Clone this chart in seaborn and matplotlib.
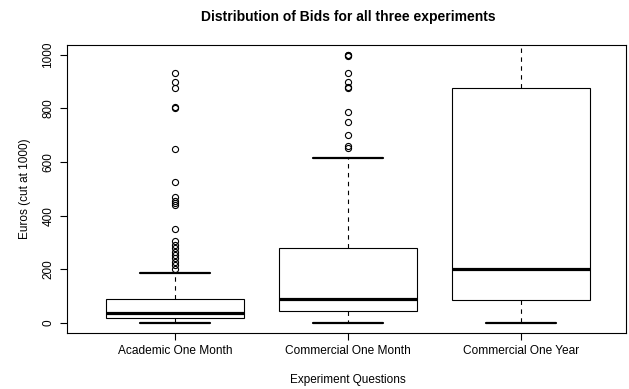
import numpy as np
import pandas as pd
import matplotlib
matplotlib.use("Agg")
import matplotlib.pyplot as plt
import seaborn as sns

# ---- data (Euros) ----
categories = ["Academic One Month", "Commercial One Month", "Commercial One Year"]
whisker_low = [0, 0, 0]
q1 = [16, 42.5, 85]
median = [38, 88.5, 199.5]
q3 = [87, 280, 876]
whisker_high = [187, 614, 1500]
outliers_academic = [934, 899, 877, 806, 801, 648, 526, 471, 456, 446, 441, 349,
                     305, 290, 278, 265, 252, 240, 228, 215, 200]
outliers_comm_month = [1000, 1000, 997, 934, 899, 880, 876, 788, 750, 700, 660, 652]
outliers_comm_year = []
outliers = [outliers_academic, outliers_comm_month, outliers_comm_year]

yticks = [0, 200, 400, 600, 800, 1000]
title = "Distribution of Bids for all three experiments"
xlabel = "Experiment Questions"
ylabel = "Euros (cut at 1000)"

# expand the five-number summaries into sample data that reproduces them
rep = 30
rows = []
for i, cat in enumerate(categories):
    vals = ([whisker_low[i]] + [q1[i]] * rep + [median[i]] * rep + [q3[i]] * rep
            + [whisker_high[i]] + list(outliers[i]))
    rows += [(cat, v) for v in vals]
df = pd.DataFrame(rows, columns=["question", "euros"])

sns.set_theme(style="white")
plt.rcParams["font.family"] = ["Liberation Sans", "DejaVu Sans"]
plt.rcParams["text.color"] = "black"
plt.rcParams["axes.labelcolor"] = "black"
plt.rcParams["xtick.color"] = "black"
plt.rcParams["ytick.color"] = "black"

W, H = 629, 389
fig = plt.figure(figsize=(W / 100, H / 100), dpi=100)
ax_l, ax_r, ax_t, ax_b = 67, 626, 44.5, 333
ax = fig.add_axes([ax_l / W, 1 - ax_b / H, (ax_r - ax_l) / W, (ax_b - ax_t) / H])

sns.boxplot(data=df, x="question", y="euros", order=categories, ax=ax,
            color="white", linecolor="black", linewidth=0.8, width=0.8, whis=1.5,
            medianprops=dict(linewidth=2.3, color="black"),
            whiskerprops=dict(linestyle=(0, (4, 4)), linewidth=0.8, color="black"),
            capprops=dict(linewidth=1.6, color="black"),
            boxprops=dict(facecolor="white", edgecolor="black", linewidth=0.8),
            flierprops=dict(marker="o", markerfacecolor="none", markeredgecolor="black",
                            markersize=4.4, markeredgewidth=0.8))

ax.set_xlim(-0.624, 2.607)
ax.set_ylim(-38.5, 1039)
ax.set_yticks(yticks)
ax.set_yticklabels([str(t) for t in yticks], rotation=90, va="center", fontsize=8.5)
ax.set_xticks(range(len(categories)))
ax.set_xticklabels(categories, fontsize=8.6)
ax.tick_params(axis="both", direction="out", length=5, width=0.8, color="black",
               labelcolor="black", left=True, bottom=True)
ax.tick_params(axis="y", pad=4)
ax.tick_params(axis="x", pad=4)
for s in ax.spines.values():
    s.set_visible(True)
    s.set_color("black")
    s.set_linewidth(0.8)
ax.grid(False)

ax.set_xlabel(xlabel, fontsize=8.5, color="black")
ax.set_ylabel(ylabel, fontsize=8.5, color="black")
ax.xaxis.set_label_coords((348 - ax_l) / (ax_r - ax_l), -(380 - ax_b) / (ax_b - ax_t))
ax.xaxis.label.set_va("center")
ax.yaxis.set_label_coords(-(ax_l - 25) / (ax_r - ax_l), 0.5)
ax.yaxis.label.set_va("center")

fig.text(348.5 / W, 1 - 17 / H, title, ha="center", va="center",
         fontsize=10, fontweight="bold", color="black")

fig.savefig("out.png", dpi=100)
